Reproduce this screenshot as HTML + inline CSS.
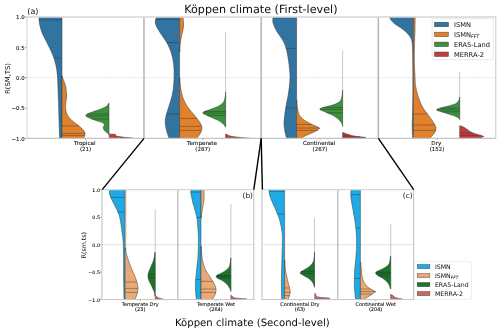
<!DOCTYPE html>
<html lang="en"><head><meta charset="utf-8"><title>Köppen climate violin plots</title>
<style>html,body{margin:0;padding:0;background:#fff}body{width:500px;height:332px;overflow:hidden}svg{display:block}</style></head>
<body>
<svg width="500" height="332" viewBox="0 0 500 332" font-family="'DejaVu Sans','Liberation Sans',sans-serif" text-rendering="geometricPrecision">
<defs><pattern id="dots" width="2.2" height="2.2" patternUnits="userSpaceOnUse"><circle cx="1.1" cy="1.1" r="0.28" fill="#8a5a30" fill-opacity="0.38"/></pattern></defs>
<rect width="500" height="332" fill="#fff"/>
<clipPath id="ca"><rect x="27" y="16.9" width="468.7" height="121.5"/></clipPath><clipPath id="cb"><rect x="101.9" y="189.6" width="311.7" height="110"/></clipPath>
<line x1="27.0" y1="77.65" x2="495.7" y2="77.65" stroke="#d4d4d4" stroke-width="0.7" stroke-dasharray="0.7 0.45"/>
<g clip-path="url(#ca)">
<path d="M62.00 14.50 L38.95 14.50 C38.96 14.92 38.96 15.75 39.00 17.00 C39.04 18.25 38.95 20.17 39.20 22.00 C39.45 23.83 39.93 26.00 40.50 28.00 C41.07 30.00 41.42 31.33 42.60 34.00 C43.78 36.67 45.97 40.67 47.60 44.00 C49.23 47.33 51.07 50.67 52.40 54.00 C53.73 57.33 54.77 60.33 55.60 64.00 C56.43 67.67 56.93 70.00 57.40 76.00 C57.87 82.00 58.13 92.67 58.40 100.00 C58.67 107.33 58.80 113.60 59.00 120.00 C59.20 126.40 59.49 134.92 59.60 138.40 C59.71 141.88 59.63 140.48 59.64 140.90 L62.00 140.90 Z" fill="#3274a1" stroke="#3a3a3a" stroke-width="0.5" stroke-linejoin="round"/>
<line x1="62.00" y1="20.00" x2="39.12" y2="20.00" stroke="#222" stroke-opacity="0.9" stroke-width="0.4"/>
<line x1="62.00" y1="58.00" x2="53.68" y2="58.00" stroke="#222" stroke-opacity="0.9" stroke-width="0.4"/>
<path d="M62.00 76.00 L62.20 76.00 C62.40 76.67 62.83 78.33 63.40 80.00 C63.97 81.67 65.07 83.33 65.60 86.00 C66.13 88.67 66.62 92.67 66.60 96.00 C66.58 99.33 65.55 103.33 65.50 106.00 C65.45 108.67 65.88 110.33 66.30 112.00 C66.72 113.67 66.97 114.50 68.00 116.00 C69.03 117.50 70.67 119.33 72.50 121.00 C74.33 122.67 77.20 124.50 79.00 126.00 C80.80 127.50 82.30 128.83 83.30 130.00 C84.30 131.17 84.78 132.00 85.00 133.00 C85.22 134.00 84.83 135.10 84.60 136.00 C84.37 136.90 83.85 137.58 83.60 138.40 C83.35 139.22 83.17 140.48 83.08 140.90 L62.00 140.90 Z" fill="#e1812c" stroke="#3a3a3a" stroke-width="0.5" stroke-linejoin="round"/>
<line x1="62.00" y1="126.00" x2="79.00" y2="126.00" stroke="#222" stroke-opacity="0.9" stroke-width="0.4"/>
<line x1="62.00" y1="133.40" x2="84.95" y2="133.40" stroke="#222" stroke-opacity="0.9" stroke-width="0.4"/>
<line x1="62.00" y1="135.60" x2="84.65" y2="135.60" stroke="#222" stroke-opacity="0.9" stroke-width="0.4"/>
<path d="M109.00 103.20 L108.80 103.20 C108.40 103.72 107.73 105.32 106.40 106.30 C105.07 107.28 103.15 108.15 100.80 109.10 C98.45 110.05 94.57 111.18 92.30 112.00 C90.03 112.82 88.30 113.43 87.20 114.00 C86.10 114.57 85.80 114.97 85.70 115.40 C85.60 115.83 86.18 116.23 86.60 116.60 C87.02 116.97 86.67 116.95 88.20 117.60 C89.73 118.25 93.47 119.67 95.80 120.50 C98.13 121.33 100.78 121.90 102.20 122.60 C103.62 123.30 104.13 123.88 104.30 124.70 C104.47 125.52 103.20 126.55 103.20 127.50 C103.20 128.45 103.70 129.57 104.30 130.40 C104.90 131.23 106.05 131.85 106.80 132.50 C107.55 133.15 108.47 134.00 108.80 134.30 L109.00 134.30 Z" fill="#3a923a" stroke="#3a3a3a" stroke-width="0.5" stroke-linejoin="round"/>
<line x1="109.00" y1="114.00" x2="87.20" y2="114.00" stroke="#222" stroke-opacity="0.9" stroke-width="0.4"/>
<line x1="109.00" y1="116.00" x2="86.15" y2="116.00" stroke="#222" stroke-opacity="0.9" stroke-width="0.4"/>
<line x1="109.00" y1="119.00" x2="91.87" y2="119.00" stroke="#222" stroke-opacity="0.9" stroke-width="0.4"/>
<path d="M109.2 133.9 L115.4 134.3 L116.2 136.1 L123 137.1 L132.8 138.1 L132.8 138.4 L109.2 138.4 Z" fill="#c03d3e" stroke="#3a3a3a" stroke-width="0.45" stroke-linejoin="round"/>
<path d="M179.60 14.50 L156.74 14.50 C156.69 14.92 156.64 15.92 156.40 17.00 C156.16 18.08 155.43 19.83 155.30 21.00 C155.17 22.17 155.27 22.83 155.60 24.00 C155.93 25.17 156.40 26.33 157.30 28.00 C158.20 29.67 159.28 31.33 161.00 34.00 C162.72 36.67 165.83 40.67 167.60 44.00 C169.37 47.33 170.60 50.67 171.60 54.00 C172.60 57.33 173.18 60.67 173.60 64.00 C174.02 67.33 174.10 70.33 174.10 74.00 C174.10 77.67 173.95 82.33 173.60 86.00 C173.25 89.67 172.77 92.67 172.00 96.00 C171.23 99.33 170.00 102.67 169.00 106.00 C168.00 109.33 166.63 113.33 166.00 116.00 C165.37 118.67 165.13 119.67 165.20 122.00 C165.27 124.33 165.77 127.27 166.40 130.00 C167.03 132.73 168.50 136.58 169.00 138.40 C169.50 140.22 169.32 140.48 169.39 140.90 L179.60 140.90 Z" fill="#3274a1" stroke="#3a3a3a" stroke-width="0.5" stroke-linejoin="round"/>
<line x1="179.60" y1="19.60" x2="155.69" y2="19.60" stroke="#222" stroke-opacity="0.9" stroke-width="0.4"/>
<line x1="179.60" y1="42.60" x2="166.68" y2="42.60" stroke="#222" stroke-opacity="0.9" stroke-width="0.4"/>
<line x1="179.60" y1="114.00" x2="166.60" y2="114.00" stroke="#222" stroke-opacity="0.9" stroke-width="0.4"/>
<path d="M179.60 14.50 L182.89 14.50 C182.91 14.92 182.88 15.42 183.00 17.00 C183.12 18.58 183.60 21.83 183.60 24.00 C183.60 26.17 183.27 28.33 183.00 30.00 C182.73 31.67 182.37 32.33 182.00 34.00 C181.63 35.67 181.13 38.00 180.80 40.00 C180.47 42.00 180.17 44.00 180.00 46.00 C179.83 48.00 179.83 51.00 179.80 52.00 L179.60 52.00 Z" fill="#e1812c" stroke="#3a3a3a" stroke-width="0.5" stroke-linejoin="round"/>
<path d="M179.60 78.00 L179.80 78.00 C179.90 79.33 179.97 83.00 180.40 86.00 C180.83 89.00 181.30 92.67 182.40 96.00 C183.50 99.33 184.90 102.67 187.00 106.00 C189.10 109.33 192.90 113.33 195.00 116.00 C197.10 118.67 198.43 120.00 199.60 122.00 C200.77 124.00 201.93 126.00 202.00 128.00 C202.07 130.00 200.93 132.27 200.00 134.00 C199.07 135.73 197.17 137.25 196.40 138.40 C195.63 139.55 195.55 140.48 195.38 140.90 L179.60 140.90 Z" fill="#e1812c" stroke="#3a3a3a" stroke-width="0.5" stroke-linejoin="round"/>
<line x1="179.60" y1="118.40" x2="196.84" y2="118.40" stroke="#222" stroke-opacity="0.9" stroke-width="0.4"/>
<line x1="179.60" y1="126.40" x2="201.36" y2="126.40" stroke="#222" stroke-opacity="0.9" stroke-width="0.4"/>
<line x1="179.60" y1="130.40" x2="201.20" y2="130.40" stroke="#222" stroke-opacity="0.9" stroke-width="0.4"/>
<line x1="225.60" y1="32.00" x2="225.60" y2="127.00" stroke="#a4a4a4" stroke-width="0.6"/>
<path d="M225.60 92.00 L225.60 92.00 C225.55 92.63 225.52 94.38 225.30 95.80 C225.08 97.22 224.85 99.18 224.30 100.50 C223.75 101.82 223.17 102.65 222.00 103.70 C220.83 104.75 219.52 105.75 217.30 106.80 C215.08 107.85 210.88 109.20 208.70 110.00 C206.52 110.80 205.20 111.13 204.20 111.60 C203.20 112.07 202.73 112.40 202.70 112.80 C202.67 113.20 203.27 113.57 204.00 114.00 C204.73 114.43 205.40 114.63 207.10 115.40 C208.80 116.17 211.98 117.55 214.20 118.60 C216.42 119.65 218.77 120.67 220.40 121.70 C222.03 122.73 223.13 123.88 224.00 124.80 C224.87 125.72 225.33 126.80 225.60 127.20 L225.60 127.20 Z" fill="#3a923a" stroke="#3a3a3a" stroke-width="0.5" stroke-linejoin="round"/>
<line x1="225.60" y1="111.50" x2="204.48" y2="111.50" stroke="#222" stroke-opacity="0.9" stroke-width="0.4"/>
<line x1="225.60" y1="113.10" x2="203.02" y2="113.10" stroke="#222" stroke-opacity="0.9" stroke-width="0.4"/>
<line x1="225.60" y1="115.40" x2="207.10" y2="115.40" stroke="#222" stroke-opacity="0.9" stroke-width="0.4"/>
<path d="M225.60 134.00 L226.00 134.00 C226.33 134.17 227.37 134.70 228.00 135.00 C228.63 135.30 228.97 135.53 229.80 135.80 C230.63 136.07 231.30 136.33 233.00 136.60 C234.70 136.87 237.67 137.17 240.00 137.40 C242.33 137.63 245.17 137.83 247.00 138.00 C248.83 138.17 248.25 137.92 251.00 138.40 C253.75 138.88 261.42 140.48 263.50 140.90 L225.60 140.90 Z" fill="#c03d3e" stroke="#3a3a3a" stroke-width="0.5" stroke-linejoin="round"/>
<path d="M296.60 14.50 L273.06 14.50 C273.05 14.92 273.04 15.92 273.00 17.00 C272.96 18.08 272.73 19.83 272.80 21.00 C272.87 22.17 272.87 22.50 273.40 24.00 C273.93 25.50 275.13 28.33 276.00 30.00 C276.87 31.67 277.50 32.33 278.60 34.00 C279.70 35.67 281.47 38.00 282.60 40.00 C283.73 42.00 284.60 43.67 285.40 46.00 C286.20 48.33 286.80 51.00 287.40 54.00 C288.00 57.00 288.57 60.33 289.00 64.00 C289.43 67.67 289.93 72.33 290.00 76.00 C290.07 79.67 289.73 82.67 289.40 86.00 C289.07 89.33 288.57 92.67 288.00 96.00 C287.43 99.33 286.57 102.67 286.00 106.00 C285.43 109.33 284.93 113.00 284.60 116.00 C284.27 119.00 283.93 121.33 284.00 124.00 C284.07 126.67 284.57 129.60 285.00 132.00 C285.43 134.40 286.28 136.92 286.60 138.40 C286.92 139.88 286.86 140.48 286.91 140.90 L296.60 140.90 Z" fill="#3274a1" stroke="#3a3a3a" stroke-width="0.5" stroke-linejoin="round"/>
<line x1="296.60" y1="17.80" x2="272.96" y2="17.80" stroke="#222" stroke-opacity="0.9" stroke-width="0.4"/>
<line x1="296.60" y1="48.40" x2="286.00" y2="48.40" stroke="#222" stroke-opacity="0.9" stroke-width="0.4"/>
<line x1="296.60" y1="108.00" x2="285.72" y2="108.00" stroke="#222" stroke-opacity="0.9" stroke-width="0.4"/>
<path d="M296.60 100.00 L296.80 100.00 C296.87 101.00 296.97 104.00 297.20 106.00 C297.43 108.00 297.73 110.33 298.20 112.00 C298.67 113.67 299.03 114.67 300.00 116.00 C300.97 117.33 302.17 118.67 304.00 120.00 C305.83 121.33 309.08 123.00 311.00 124.00 C312.92 125.00 314.10 125.33 315.50 126.00 C316.90 126.67 319.02 127.33 319.40 128.00 C319.78 128.67 318.70 129.33 317.80 130.00 C316.90 130.67 316.13 131.00 314.00 132.00 C311.87 133.00 307.17 134.93 305.00 136.00 C302.83 137.07 302.01 137.58 301.00 138.40 C299.99 139.22 299.26 140.48 298.92 140.90 L296.60 140.90 Z" fill="#e1812c" stroke="#3a3a3a" stroke-width="0.5" stroke-linejoin="round"/>
<line x1="296.60" y1="124.40" x2="311.90" y2="124.40" stroke="#222" stroke-opacity="0.9" stroke-width="0.4"/>
<line x1="296.60" y1="128.00" x2="319.40" y2="128.00" stroke="#222" stroke-opacity="0.9" stroke-width="0.4"/>
<line x1="296.60" y1="130.40" x2="317.04" y2="130.40" stroke="#222" stroke-opacity="0.9" stroke-width="0.4"/>
<line x1="342.60" y1="50.00" x2="342.60" y2="126.40" stroke="#a4a4a4" stroke-width="0.6"/>
<path d="M342.60 90.00 L342.60 90.00 C342.53 90.83 342.42 93.50 342.20 95.00 C341.98 96.50 341.83 97.82 341.30 99.00 C340.77 100.18 340.17 101.18 339.00 102.10 C337.83 103.02 336.52 103.72 334.30 104.50 C332.08 105.28 327.92 106.18 325.70 106.80 C323.48 107.42 322.00 107.81 321.00 108.20 C320.00 108.59 319.70 108.82 319.70 109.15 C319.70 109.48 320.27 109.81 321.00 110.20 C321.73 110.59 322.40 110.77 324.10 111.50 C325.80 112.23 329.12 113.55 331.20 114.60 C333.28 115.65 335.12 116.75 336.60 117.80 C338.08 118.85 339.18 119.87 340.10 120.90 C341.02 121.93 341.67 123.08 342.10 124.00 C342.53 124.92 342.60 126.00 342.70 126.40 L342.60 126.40 Z" fill="#3a923a" stroke="#3a3a3a" stroke-width="0.5" stroke-linejoin="round"/>
<line x1="342.60" y1="107.60" x2="323.01" y2="107.60" stroke="#222" stroke-opacity="0.9" stroke-width="0.4"/>
<line x1="342.60" y1="109.40" x2="320.01" y2="109.40" stroke="#222" stroke-opacity="0.9" stroke-width="0.4"/>
<line x1="342.60" y1="112.80" x2="327.08" y2="112.80" stroke="#222" stroke-opacity="0.9" stroke-width="0.4"/>
<path d="M342.60 132.50 L343.00 132.50 C343.42 132.65 344.73 133.12 345.50 133.40 C346.27 133.68 346.85 133.93 347.60 134.20 C348.35 134.47 349.10 134.73 350.00 135.00 C350.90 135.27 351.67 135.53 353.00 135.80 C354.33 136.07 355.90 136.33 358.00 136.60 C360.10 136.87 364.60 137.17 365.60 137.40 C366.60 137.63 364.60 137.83 364.00 138.00 C363.40 138.17 363.38 137.92 362.00 138.40 C360.62 138.88 356.79 140.48 355.75 140.90 L342.60 140.90 Z" fill="#c03d3e" stroke="#3a3a3a" stroke-width="0.5" stroke-linejoin="round"/>
<line x1="342.60" y1="135.20" x2="350.75" y2="135.20" stroke="#222" stroke-opacity="0.9" stroke-width="0.4"/>
<line x1="342.60" y1="136.80" x2="359.90" y2="136.80" stroke="#222" stroke-opacity="0.9" stroke-width="0.4"/>
<path d="M413.40 14.50 L389.02 14.50 C389.11 14.92 389.27 16.08 389.60 17.00 C389.93 17.92 390.10 18.83 391.00 20.00 C391.90 21.17 393.33 22.67 395.00 24.00 C396.67 25.33 399.17 26.67 401.00 28.00 C402.83 29.33 404.57 30.67 406.00 32.00 C407.43 33.33 408.67 34.67 409.60 36.00 C410.53 37.33 411.13 38.33 411.60 40.00 C412.07 41.67 412.20 42.67 412.40 46.00 C412.60 49.33 412.72 52.67 412.80 60.00 C412.88 67.33 412.95 80.83 412.90 90.00 C412.85 99.17 412.62 109.17 412.50 115.00 C412.38 120.83 412.22 121.83 412.20 125.00 C412.18 128.17 412.32 131.77 412.40 134.00 C412.48 136.23 412.64 137.25 412.70 138.40 C412.76 139.55 412.77 140.48 412.79 140.90 L413.40 140.90 Z" fill="#3274a1" stroke="#3a3a3a" stroke-width="0.5" stroke-linejoin="round"/>
<path d="M413.40 14.50 L415.22 14.50 C415.22 14.92 415.24 14.42 415.20 17.00 C415.16 19.58 415.12 25.50 415.00 30.00 C414.88 34.50 414.62 39.00 414.50 44.00 C414.38 49.00 414.22 54.67 414.30 60.00 C414.38 65.33 414.78 71.67 415.00 76.00 C415.22 80.33 415.10 82.67 415.60 86.00 C416.10 89.33 416.93 92.67 418.00 96.00 C419.07 99.33 420.67 103.33 422.00 106.00 C423.33 108.67 424.60 110.00 426.00 112.00 C427.40 114.00 429.00 116.00 430.40 118.00 C431.80 120.00 433.47 122.33 434.40 124.00 C435.33 125.67 435.90 126.67 436.00 128.00 C436.10 129.33 435.67 130.67 435.00 132.00 C434.33 133.33 432.90 134.93 432.00 136.00 C431.10 137.07 430.21 137.58 429.60 138.40 C428.99 139.22 428.56 140.48 428.35 140.90 L413.40 140.90 Z" fill="#e1812c" stroke="#3a3a3a" stroke-width="0.5" stroke-linejoin="round"/>
<line x1="413.40" y1="114.00" x2="427.47" y2="114.00" stroke="#222" stroke-opacity="0.9" stroke-width="0.4"/>
<line x1="413.40" y1="125.00" x2="434.80" y2="125.00" stroke="#222" stroke-opacity="0.9" stroke-width="0.4"/>
<line x1="413.40" y1="130.40" x2="435.40" y2="130.40" stroke="#222" stroke-opacity="0.9" stroke-width="0.4"/>
<line x1="459.70" y1="72.00" x2="459.70" y2="119.50" stroke="#a4a4a4" stroke-width="0.6"/>
<path d="M459.70 97.00 L459.60 97.00 C459.50 97.50 459.33 99.17 459.00 100.00 C458.67 100.83 458.17 101.38 457.60 102.00 C457.03 102.62 456.98 103.07 455.60 103.70 C454.22 104.33 451.77 105.10 449.30 105.80 C446.83 106.50 442.78 107.37 440.80 107.90 C438.82 108.43 438.10 108.68 437.40 109.00 C436.70 109.32 436.53 109.52 436.60 109.80 C436.67 110.08 436.75 110.30 437.80 110.70 C438.85 111.10 440.98 111.60 442.90 112.20 C444.82 112.80 447.18 113.60 449.30 114.30 C451.42 115.00 453.95 115.70 455.60 116.40 C457.25 117.10 458.52 117.98 459.20 118.50 C459.88 119.02 459.62 119.33 459.70 119.50 L459.70 119.50 Z" fill="#3a923a" stroke="#3a3a3a" stroke-width="0.5" stroke-linejoin="round"/>
<line x1="459.70" y1="108.20" x2="439.87" y2="108.20" stroke="#222" stroke-opacity="0.9" stroke-width="0.4"/>
<line x1="459.70" y1="110.00" x2="436.87" y2="110.00" stroke="#222" stroke-opacity="0.9" stroke-width="0.4"/>
<line x1="459.70" y1="111.80" x2="441.54" y2="111.80" stroke="#222" stroke-opacity="0.9" stroke-width="0.4"/>
<path d="M459.70 125.70 L460.00 125.70 C460.42 125.83 461.62 126.12 462.50 126.50 C463.38 126.88 464.38 127.42 465.30 128.00 C466.22 128.58 467.00 129.28 468.00 130.00 C469.00 130.72 470.22 131.72 471.30 132.30 C472.38 132.88 473.30 133.10 474.50 133.50 C475.70 133.90 476.98 134.23 478.50 134.70 C480.02 135.17 483.02 135.87 483.60 136.30 C484.18 136.73 482.63 136.95 482.00 137.30 C481.37 137.65 480.58 137.80 479.80 138.40 C479.02 139.00 477.72 140.48 477.30 140.90 L459.70 140.90 Z" fill="#c03d3e" stroke="#3a3a3a" stroke-width="0.5" stroke-linejoin="round"/>
<line x1="459.70" y1="133.00" x2="473.17" y2="133.00" stroke="#222" stroke-opacity="0.9" stroke-width="0.4"/>
<line x1="459.70" y1="135.60" x2="481.37" y2="135.60" stroke="#222" stroke-opacity="0.9" stroke-width="0.4"/>
</g>
<line x1="143.98" y1="16.90" x2="143.98" y2="138.40" stroke="#b4b4b4" stroke-width="1.5"/>
<line x1="261.15" y1="16.90" x2="261.15" y2="138.40" stroke="#b4b4b4" stroke-width="1.5"/>
<line x1="378.32" y1="16.90" x2="378.32" y2="138.40" stroke="#b4b4b4" stroke-width="1.5"/>
<line x1="26.50" y1="16.90" x2="496.20" y2="16.90" stroke="#d6d6d6" stroke-width="1.5"/>
<line x1="26.50" y1="138.40" x2="496.20" y2="138.40" stroke="#c4c4c4" stroke-width="1.1"/>
<line x1="27.00" y1="16.90" x2="27.00" y2="138.40" stroke="#d6d6d6" stroke-width="1.1"/>
<line x1="495.70" y1="16.90" x2="495.70" y2="138.40" stroke="#d0d0d0" stroke-width="1.1"/>
<line x1="24.70" y1="16.90" x2="26.50" y2="16.90" stroke="#555" stroke-width="0.5"/>
<text transform="translate(24.60 19.20) scale(0.1)" font-size="54.0" text-anchor="end" fill="#0a0a0a" stroke="#0a0a0a" stroke-width="0.8">1.0</text>
<line x1="24.70" y1="47.27" x2="26.50" y2="47.27" stroke="#555" stroke-width="0.5"/>
<text transform="translate(24.60 49.57) scale(0.1)" font-size="54.0" text-anchor="end" fill="#0a0a0a" stroke="#0a0a0a" stroke-width="0.8">0.5</text>
<line x1="24.70" y1="77.65" x2="26.50" y2="77.65" stroke="#555" stroke-width="0.5"/>
<text transform="translate(24.60 79.95) scale(0.1)" font-size="54.0" text-anchor="end" fill="#0a0a0a" stroke="#0a0a0a" stroke-width="0.8">0.0</text>
<line x1="24.70" y1="108.03" x2="26.50" y2="108.03" stroke="#555" stroke-width="0.5"/>
<text transform="translate(24.60 110.33) scale(0.1)" font-size="54.0" text-anchor="end" fill="#0a0a0a" stroke="#0a0a0a" stroke-width="0.8">−0.5</text>
<line x1="24.70" y1="138.40" x2="26.50" y2="138.40" stroke="#555" stroke-width="0.5"/>
<text transform="translate(24.60 140.70) scale(0.1)" font-size="54.0" text-anchor="end" fill="#0a0a0a" stroke="#0a0a0a" stroke-width="0.8">−1.0</text>
<line x1="85.59" y1="138.9" x2="85.59" y2="140.1" stroke="#666" stroke-width="0.5"/>
<text transform="translate(84.79 144.70) scale(0.1)" font-size="56.0" text-anchor="middle" fill="#0a0a0a" stroke="#0a0a0a" stroke-width="0.8">Tropical</text>
<text transform="translate(85.59 150.90) scale(0.1)" font-size="55.0" text-anchor="middle" fill="#0a0a0a" stroke="#0a0a0a" stroke-width="0.8">(21)</text>
<line x1="202.76" y1="138.9" x2="202.76" y2="140.1" stroke="#666" stroke-width="0.5"/>
<text transform="translate(201.96 144.70) scale(0.1)" font-size="56.0" text-anchor="middle" fill="#0a0a0a" stroke="#0a0a0a" stroke-width="0.8">Temperate</text>
<text transform="translate(202.76 150.90) scale(0.1)" font-size="55.0" text-anchor="middle" fill="#0a0a0a" stroke="#0a0a0a" stroke-width="0.8">(287)</text>
<line x1="319.94" y1="138.9" x2="319.94" y2="140.1" stroke="#666" stroke-width="0.5"/>
<text transform="translate(319.14 144.70) scale(0.1)" font-size="56.0" text-anchor="middle" fill="#0a0a0a" stroke="#0a0a0a" stroke-width="0.8">Continental</text>
<text transform="translate(319.94 150.90) scale(0.1)" font-size="55.0" text-anchor="middle" fill="#0a0a0a" stroke="#0a0a0a" stroke-width="0.8">(267)</text>
<line x1="437.11" y1="138.9" x2="437.11" y2="140.1" stroke="#666" stroke-width="0.5"/>
<text transform="translate(436.31 144.70) scale(0.1)" font-size="56.0" text-anchor="middle" fill="#0a0a0a" stroke="#0a0a0a" stroke-width="0.8">Dry</text>
<text transform="translate(437.11 150.90) scale(0.1)" font-size="55.0" text-anchor="middle" fill="#0a0a0a" stroke="#0a0a0a" stroke-width="0.8">(152)</text>
<text transform="translate(9.9 78.5) rotate(-90) scale(0.1)" font-size="68.0" text-anchor="middle" fill="#0a0a0a">R(SM,TS)</text>
<text transform="translate(27.30 14.10) scale(0.1)" font-size="80.0" text-anchor="start" fill="#0a0a0a">(a)</text>
<text transform="translate(260.90 12.50) scale(0.1)" font-size="112.0" text-anchor="middle" fill="#0a0a0a">Köppen climate (First-level)</text>
<rect x="432.2" y="18.7" width="61.1" height="41" rx="1.2" fill="#fff" fill-opacity="0.8" stroke="#dcdcdc" stroke-width="0.6"/>
<rect x="434.5" y="22.20" width="14" height="4.6" fill="#3274a1" stroke="#3a3a3a" stroke-width="0.4"/>
<text transform="translate(453.90 26.90) scale(0.1)" font-size="67.0" text-anchor="start" fill="#0a0a0a">ISMN</text>
<rect x="434.5" y="32.13" width="14" height="4.6" fill="#e1812c" stroke="#3a3a3a" stroke-width="0.4"/>
<text transform="translate(453.9 36.83) scale(0.1)" font-size="67" fill="#0a0a0a">ISMN<tspan font-size="47" dy="13" font-style="italic">FFT</tspan></text>
<rect x="434.5" y="42.06" width="14" height="4.6" fill="#3a923a" stroke="#3a3a3a" stroke-width="0.4"/>
<text transform="translate(453.90 46.76) scale(0.1)" font-size="67.0" text-anchor="start" fill="#0a0a0a">ERA5-Land</text>
<rect x="434.5" y="51.99" width="14" height="4.6" fill="#c03d3e" stroke="#3a3a3a" stroke-width="0.4"/>
<text transform="translate(453.90 56.69) scale(0.1)" font-size="67.0" text-anchor="start" fill="#0a0a0a">MERRA-2</text>
<line x1="101.9" y1="244.60" x2="253.8" y2="244.60" stroke="#d8d8d8" stroke-width="0.7"/>
<line x1="262.0" y1="244.60" x2="413.6" y2="244.60" stroke="#d8d8d8" stroke-width="0.7"/>
<g clip-path="url(#cb)">
<path d="M125.10 187.10 L109.60 187.10 C109.60 187.52 109.60 188.45 109.60 189.60 C109.60 190.75 109.37 192.60 109.60 194.00 C109.83 195.40 110.27 196.33 111.00 198.00 C111.73 199.67 113.00 202.00 114.00 204.00 C115.00 206.00 116.10 208.00 117.00 210.00 C117.90 212.00 118.73 213.67 119.40 216.00 C120.07 218.33 120.57 221.33 121.00 224.00 C121.43 226.67 121.67 229.33 122.00 232.00 C122.33 234.67 122.77 237.00 123.00 240.00 C123.23 243.00 123.30 245.83 123.40 250.00 C123.50 254.17 123.57 260.00 123.60 265.00 C123.63 270.00 123.53 274.23 123.60 280.00 C123.67 285.77 123.93 295.92 124.00 299.60 C124.07 303.28 124.02 301.68 124.03 302.10 L125.10 302.10 Z" fill="#1faae6" stroke="#3a3a3a" stroke-width="0.5" stroke-linejoin="round"/>
<line x1="125.10" y1="197.40" x2="110.79" y2="197.40" stroke="#222" stroke-opacity="0.9" stroke-width="0.4"/>
<line x1="125.10" y1="212.00" x2="117.80" y2="212.00" stroke="#222" stroke-opacity="0.9" stroke-width="0.4"/>
<line x1="125.75" y1="189.8" x2="125.75" y2="250" stroke="#d9935c" stroke-width="0.9"/>
<path d="M125.10 248.00 L125.50 248.00 C125.65 249.00 125.92 252.00 126.40 254.00 C126.88 256.00 127.73 258.00 128.40 260.00 C129.07 262.00 129.63 264.00 130.40 266.00 C131.17 268.00 132.13 270.00 133.00 272.00 C133.87 274.00 134.87 276.00 135.60 278.00 C136.33 280.00 137.00 282.33 137.40 284.00 C137.80 285.67 137.97 286.67 138.00 288.00 C138.03 289.33 137.87 290.67 137.60 292.00 C137.33 293.33 136.83 294.73 136.40 296.00 C135.97 297.27 135.31 298.58 135.00 299.60 C134.69 300.62 134.59 301.68 134.51 302.10 L125.10 302.10 Z" fill="#ecab76" stroke="#3a3a3a" stroke-width="0.5" stroke-linejoin="round"/>
<path d="M125.10 248.00 L125.50 248.00 C125.65 249.00 125.92 252.00 126.40 254.00 C126.88 256.00 127.73 258.00 128.40 260.00 C129.07 262.00 129.63 264.00 130.40 266.00 C131.17 268.00 132.13 270.00 133.00 272.00 C133.87 274.00 134.87 276.00 135.60 278.00 C136.33 280.00 137.00 282.33 137.40 284.00 C137.80 285.67 137.97 286.67 138.00 288.00 C138.03 289.33 137.87 290.67 137.60 292.00 C137.33 293.33 136.83 294.73 136.40 296.00 C135.97 297.27 135.31 298.58 135.00 299.60 C134.69 300.62 134.59 301.68 134.51 302.10 L125.10 302.10 Z" fill="url(#dots)" stroke="none"/>
<line x1="125.10" y1="282.00" x2="136.80" y2="282.00" stroke="#222" stroke-opacity="0.9" stroke-width="0.4"/>
<line x1="125.10" y1="288.40" x2="137.96" y2="288.40" stroke="#222" stroke-opacity="0.9" stroke-width="0.4"/>
<line x1="125.10" y1="292.40" x2="137.48" y2="292.40" stroke="#222" stroke-opacity="0.9" stroke-width="0.4"/>
<line x1="155.20" y1="209.00" x2="155.20" y2="296.00" stroke="#a4a4a4" stroke-width="0.6"/>
<path d="M155.20 252.00 L155.00 252.00 C154.90 252.67 154.63 254.67 154.40 256.00 C154.17 257.33 154.13 258.33 153.60 260.00 C153.07 261.67 152.02 264.00 151.20 266.00 C150.38 268.00 149.23 270.38 148.70 272.00 C148.17 273.62 148.00 274.37 148.00 275.70 C148.00 277.03 148.10 278.28 148.70 280.00 C149.30 281.72 150.82 284.33 151.60 286.00 C152.38 287.67 152.92 288.83 153.40 290.00 C153.88 291.17 154.23 292.00 154.50 293.00 C154.77 294.00 154.92 295.50 155.00 296.00 L155.20 296.00 Z" fill="#1a7528" stroke="#3a3a3a" stroke-width="0.5" stroke-linejoin="round"/>
<line x1="155.20" y1="274.40" x2="148.25" y2="274.40" stroke="#222" stroke-opacity="0.9" stroke-width="0.4"/>
<line x1="155.20" y1="277.60" x2="148.31" y2="277.60" stroke="#222" stroke-opacity="0.9" stroke-width="0.4"/>
<path d="M155.20 295.50 L155.40 295.50 C155.67 295.75 156.32 296.55 157.00 297.00 C157.68 297.45 158.60 297.87 159.50 298.20 C160.40 298.53 161.65 298.77 162.40 299.00 C163.15 299.23 163.18 299.08 164.00 299.60 C164.82 300.12 166.78 301.68 167.33 302.10 L155.20 302.10 Z" fill="#cb6666" stroke="#3a3a3a" stroke-width="0.5" stroke-linejoin="round"/>
<path d="M201.00 187.10 L191.07 187.10 C191.06 187.52 191.05 188.62 191.00 189.60 C190.95 190.58 190.73 191.93 190.80 193.00 C190.87 194.07 191.10 194.50 191.40 196.00 C191.70 197.50 192.10 200.00 192.60 202.00 C193.10 204.00 193.83 206.00 194.40 208.00 C194.97 210.00 195.53 212.00 196.00 214.00 C196.47 216.00 196.87 217.33 197.20 220.00 C197.53 222.67 197.80 226.67 198.00 230.00 C198.20 233.33 198.40 235.67 198.40 240.00 C198.40 244.33 198.23 251.67 198.00 256.00 C197.77 260.33 197.33 262.67 197.00 266.00 C196.67 269.33 196.27 273.00 196.00 276.00 C195.73 279.00 195.47 281.33 195.40 284.00 C195.33 286.67 195.43 289.40 195.60 292.00 C195.77 294.60 196.24 297.92 196.40 299.60 C196.56 301.28 196.51 301.68 196.53 302.10 L201.00 302.10 Z" fill="#1faae6" stroke="#3a3a3a" stroke-width="0.5" stroke-linejoin="round"/>
<line x1="201.00" y1="192.00" x2="190.86" y2="192.00" stroke="#222" stroke-opacity="0.9" stroke-width="0.4"/>
<line x1="201.00" y1="217.40" x2="196.68" y2="217.40" stroke="#222" stroke-opacity="0.9" stroke-width="0.4"/>
<line x1="201.00" y1="279.40" x2="195.75" y2="279.40" stroke="#222" stroke-opacity="0.9" stroke-width="0.4"/>
<path d="M201.00 187.10 L204.00 187.10 C204.00 187.52 204.00 187.45 204.00 189.60 C204.00 191.75 204.17 197.27 204.00 200.00 C203.83 202.73 203.28 204.33 203.00 206.00 C202.72 207.67 202.53 208.67 202.30 210.00 C202.07 211.33 201.78 212.67 201.60 214.00 C201.42 215.33 201.27 217.33 201.20 218.00 L201.00 218.00 Z" fill="#ecab76" stroke="#3a3a3a" stroke-width="0.5" stroke-linejoin="round"/>
<path d="M201.00 246.00 L201.30 246.00 C201.35 247.00 201.45 250.00 201.60 252.00 C201.75 254.00 201.90 256.00 202.20 258.00 C202.50 260.00 202.83 262.00 203.40 264.00 C203.97 266.00 204.60 268.00 205.60 270.00 C206.60 272.00 208.13 274.00 209.40 276.00 C210.67 278.00 212.23 280.33 213.20 282.00 C214.17 283.67 214.72 284.72 215.20 286.00 C215.68 287.28 216.03 288.53 216.10 289.70 C216.17 290.87 215.88 291.95 215.60 293.00 C215.32 294.05 214.95 294.90 214.40 296.00 C213.85 297.10 212.77 298.58 212.30 299.60 C211.83 300.62 211.69 301.68 211.57 302.10 L201.00 302.10 Z" fill="#ecab76" stroke="#3a3a3a" stroke-width="0.5" stroke-linejoin="round"/>
<path d="M201.00 246.00 L201.30 246.00 C201.35 247.00 201.45 250.00 201.60 252.00 C201.75 254.00 201.90 256.00 202.20 258.00 C202.50 260.00 202.83 262.00 203.40 264.00 C203.97 266.00 204.60 268.00 205.60 270.00 C206.60 272.00 208.13 274.00 209.40 276.00 C210.67 278.00 212.23 280.33 213.20 282.00 C214.17 283.67 214.72 284.72 215.20 286.00 C215.68 287.28 216.03 288.53 216.10 289.70 C216.17 290.87 215.88 291.95 215.60 293.00 C215.32 294.05 214.95 294.90 214.40 296.00 C213.85 297.10 212.77 298.58 212.30 299.60 C211.83 300.62 211.69 301.68 211.57 302.10 L201.00 302.10 Z" fill="url(#dots)" stroke="none"/>
<line x1="201.00" y1="281.40" x2="212.82" y2="281.40" stroke="#222" stroke-opacity="0.9" stroke-width="0.4"/>
<line x1="201.00" y1="289.00" x2="215.93" y2="289.00" stroke="#222" stroke-opacity="0.9" stroke-width="0.4"/>
<line x1="201.00" y1="292.40" x2="215.69" y2="292.40" stroke="#222" stroke-opacity="0.9" stroke-width="0.4"/>
<line x1="230.90" y1="204.00" x2="230.90" y2="291.00" stroke="#a4a4a4" stroke-width="0.6"/>
<path d="M230.90 258.00 L230.70 258.00 C230.62 258.87 230.50 261.63 230.20 263.20 C229.90 264.77 229.53 266.28 228.90 267.40 C228.27 268.52 227.43 269.07 226.40 269.90 C225.37 270.73 224.08 271.63 222.70 272.40 C221.32 273.17 219.12 273.97 218.10 274.50 C217.08 275.03 216.93 275.27 216.60 275.60 C216.27 275.93 216.10 276.20 216.10 276.50 C216.10 276.80 216.27 277.07 216.60 277.40 C216.93 277.73 217.15 277.97 218.10 278.50 C219.05 279.03 221.05 279.83 222.30 280.60 C223.55 281.37 224.65 282.27 225.60 283.10 C226.55 283.93 227.27 284.63 228.00 285.60 C228.73 286.57 229.55 287.93 230.00 288.90 C230.45 289.87 230.58 290.98 230.70 291.40 L230.90 291.40 Z" fill="#1a7528" stroke="#3a3a3a" stroke-width="0.5" stroke-linejoin="round"/>
<line x1="230.90" y1="275.40" x2="216.87" y2="275.40" stroke="#222" stroke-opacity="0.9" stroke-width="0.4"/>
<line x1="230.90" y1="276.60" x2="216.16" y2="276.60" stroke="#222" stroke-opacity="0.9" stroke-width="0.4"/>
<line x1="230.90" y1="278.20" x2="217.69" y2="278.20" stroke="#222" stroke-opacity="0.9" stroke-width="0.4"/>
<path d="M230.90 295.30 L231.20 295.30 C231.40 295.50 231.97 296.13 232.40 296.50 C232.83 296.87 233.12 297.22 233.80 297.50 C234.48 297.78 234.42 297.97 236.50 298.20 C238.58 298.43 245.05 298.67 246.30 298.90 C247.55 299.13 245.07 299.07 244.00 299.60 C242.93 300.13 240.58 301.68 239.89 302.10 L230.90 302.10 Z" fill="#cb6666" stroke="#3a3a3a" stroke-width="0.5" stroke-linejoin="round"/>
<path d="M284.60 187.10 L268.89 187.10 C268.91 187.52 268.91 188.45 269.00 189.60 C269.09 190.75 269.00 192.27 269.40 194.00 C269.80 195.73 270.63 198.00 271.40 200.00 C272.17 202.00 273.13 204.00 274.00 206.00 C274.87 208.00 275.77 210.00 276.60 212.00 C277.43 214.00 278.33 216.00 279.00 218.00 C279.67 220.00 280.10 221.67 280.60 224.00 C281.10 226.33 281.70 229.33 282.00 232.00 C282.30 234.67 282.42 235.33 282.40 240.00 C282.38 244.67 282.07 253.33 281.90 260.00 C281.73 266.67 281.43 273.40 281.40 280.00 C281.37 286.60 281.65 295.92 281.70 299.60 C281.75 303.28 281.72 301.68 281.72 302.10 L284.60 302.10 Z" fill="#1faae6" stroke="#3a3a3a" stroke-width="0.5" stroke-linejoin="round"/>
<line x1="284.60" y1="191.40" x2="269.16" y2="191.40" stroke="#222" stroke-opacity="0.9" stroke-width="0.4"/>
<line x1="284.60" y1="214.00" x2="277.40" y2="214.00" stroke="#222" stroke-opacity="0.9" stroke-width="0.4"/>
<path d="M284.60 260.00 L284.80 260.00 C284.83 261.00 284.90 264.33 285.00 266.00 C285.10 267.67 285.13 268.33 285.40 270.00 C285.67 271.67 286.17 274.00 286.60 276.00 C287.03 278.00 287.50 280.00 288.00 282.00 C288.50 284.00 289.23 286.33 289.60 288.00 C289.97 289.67 290.23 290.67 290.20 292.00 C290.17 293.33 289.77 294.73 289.40 296.00 C289.03 297.27 288.31 298.58 288.00 299.60 C287.69 300.62 287.59 301.68 287.51 302.10 L284.60 302.10 Z" fill="#ecab76" stroke="#3a3a3a" stroke-width="0.5" stroke-linejoin="round"/>
<path d="M284.60 260.00 L284.80 260.00 C284.83 261.00 284.90 264.33 285.00 266.00 C285.10 267.67 285.13 268.33 285.40 270.00 C285.67 271.67 286.17 274.00 286.60 276.00 C287.03 278.00 287.50 280.00 288.00 282.00 C288.50 284.00 289.23 286.33 289.60 288.00 C289.97 289.67 290.23 290.67 290.20 292.00 C290.17 293.33 289.77 294.73 289.40 296.00 C289.03 297.27 288.31 298.58 288.00 299.60 C287.69 300.62 287.59 301.68 287.51 302.10 L284.60 302.10 Z" fill="url(#dots)" stroke="none"/>
<line x1="284.60" y1="288.00" x2="289.60" y2="288.00" stroke="#222" stroke-opacity="0.9" stroke-width="0.4"/>
<line x1="284.60" y1="292.40" x2="290.12" y2="292.40" stroke="#222" stroke-opacity="0.9" stroke-width="0.4"/>
<line x1="284.60" y1="295.60" x2="289.48" y2="295.60" stroke="#222" stroke-opacity="0.9" stroke-width="0.4"/>
<line x1="314.50" y1="218.00" x2="314.50" y2="287.00" stroke="#a4a4a4" stroke-width="0.6"/>
<path d="M314.50 252.00 L314.50 252.00 C314.45 252.77 314.38 255.00 314.20 256.60 C314.02 258.20 313.92 260.22 313.40 261.60 C312.88 262.98 311.98 263.93 311.10 264.90 C310.22 265.87 309.28 266.57 308.10 267.40 C306.92 268.23 305.18 269.20 304.00 269.90 C302.82 270.60 301.63 271.12 301.00 271.60 C300.37 272.08 300.20 272.40 300.20 272.80 C300.20 273.20 300.37 273.52 301.00 274.00 C301.63 274.48 302.82 275.02 304.00 275.70 C305.18 276.38 306.92 277.28 308.10 278.10 C309.28 278.92 310.22 279.63 311.10 280.60 C311.98 281.57 312.85 282.78 313.40 283.90 C313.95 285.02 314.23 286.73 314.40 287.30 L314.50 287.30 Z" fill="#1a7528" stroke="#3a3a3a" stroke-width="0.5" stroke-linejoin="round"/>
<line x1="314.50" y1="271.60" x2="301.00" y2="271.60" stroke="#222" stroke-opacity="0.9" stroke-width="0.4"/>
<line x1="314.50" y1="273.40" x2="300.60" y2="273.40" stroke="#222" stroke-opacity="0.9" stroke-width="0.4"/>
<path d="M314.7 293.4 L315.7 293.7 L316.2 296.4 L320 297.3 L329.8 298 L329.8 298.6 L322 299.2 L314.7 299.6 Z" fill="#cb6666" stroke="#3a3a3a" stroke-width="0.4" stroke-linejoin="round"/>
<path d="M360.40 187.10 L351.04 187.10 C351.03 187.52 351.04 188.12 351.00 189.60 C350.96 191.08 350.70 193.93 350.80 196.00 C350.90 198.07 351.23 199.67 351.60 202.00 C351.97 204.33 352.53 207.33 353.00 210.00 C353.47 212.67 353.97 215.33 354.40 218.00 C354.83 220.67 355.27 223.00 355.60 226.00 C355.93 229.00 356.23 232.83 356.40 236.00 C356.57 239.17 356.67 241.67 356.60 245.00 C356.53 248.33 356.27 252.50 356.00 256.00 C355.73 259.50 355.27 262.67 355.00 266.00 C354.73 269.33 354.50 272.67 354.40 276.00 C354.30 279.33 354.30 283.00 354.40 286.00 C354.50 289.00 354.80 291.73 355.00 294.00 C355.20 296.27 355.48 298.25 355.60 299.60 C355.72 300.95 355.71 301.68 355.73 302.10 L360.40 302.10 Z" fill="#1faae6" stroke="#3a3a3a" stroke-width="0.5" stroke-linejoin="round"/>
<line x1="360.40" y1="194.60" x2="350.84" y2="194.60" stroke="#222" stroke-opacity="0.9" stroke-width="0.4"/>
<line x1="360.40" y1="228.00" x2="355.76" y2="228.00" stroke="#222" stroke-opacity="0.9" stroke-width="0.4"/>
<line x1="360.40" y1="278.40" x2="354.40" y2="278.40" stroke="#222" stroke-opacity="0.9" stroke-width="0.4"/>
<path d="M360.40 262.00 L360.70 262.00 C360.75 262.67 360.88 264.67 361.00 266.00 C361.12 267.33 361.23 268.33 361.40 270.00 C361.57 271.67 361.73 274.33 362.00 276.00 C362.27 277.67 362.50 278.67 363.00 280.00 C363.50 281.33 364.00 282.67 365.00 284.00 C366.00 285.33 367.75 287.00 369.00 288.00 C370.25 289.00 371.40 289.40 372.50 290.00 C373.60 290.60 375.43 291.10 375.60 291.60 C375.77 292.10 374.27 292.43 373.50 293.00 C372.73 293.57 372.25 294.17 371.00 295.00 C369.75 295.83 367.17 297.23 366.00 298.00 C364.83 298.77 364.59 298.92 364.00 299.60 C363.41 300.28 362.70 301.68 362.44 302.10 L360.40 302.10 Z" fill="#ecab76" stroke="#3a3a3a" stroke-width="0.5" stroke-linejoin="round"/>
<path d="M360.40 262.00 L360.70 262.00 C360.75 262.67 360.88 264.67 361.00 266.00 C361.12 267.33 361.23 268.33 361.40 270.00 C361.57 271.67 361.73 274.33 362.00 276.00 C362.27 277.67 362.50 278.67 363.00 280.00 C363.50 281.33 364.00 282.67 365.00 284.00 C366.00 285.33 367.75 287.00 369.00 288.00 C370.25 289.00 371.40 289.40 372.50 290.00 C373.60 290.60 375.43 291.10 375.60 291.60 C375.77 292.10 374.27 292.43 373.50 293.00 C372.73 293.57 372.25 294.17 371.00 295.00 C369.75 295.83 367.17 297.23 366.00 298.00 C364.83 298.77 364.59 298.92 364.00 299.60 C363.41 300.28 362.70 301.68 362.44 302.10 L360.40 302.10 Z" fill="url(#dots)" stroke="none"/>
<line x1="360.40" y1="289.00" x2="370.75" y2="289.00" stroke="#222" stroke-opacity="0.9" stroke-width="0.4"/>
<line x1="360.40" y1="291.60" x2="375.60" y2="291.60" stroke="#222" stroke-opacity="0.9" stroke-width="0.4"/>
<line x1="360.40" y1="294.00" x2="372.25" y2="294.00" stroke="#222" stroke-opacity="0.9" stroke-width="0.4"/>
<line x1="390.70" y1="224.40" x2="390.70" y2="289.00" stroke="#a4a4a4" stroke-width="0.6"/>
<path d="M390.70 256.00 L390.40 256.00 C390.33 256.65 390.25 258.55 390.00 259.90 C389.75 261.25 389.50 262.98 388.90 264.10 C388.30 265.22 387.50 265.78 386.40 266.60 C385.30 267.42 383.82 268.23 382.30 269.00 C380.78 269.77 378.35 270.65 377.30 271.20 C376.25 271.75 376.28 271.97 376.00 272.30 C375.72 272.63 375.57 272.88 375.60 273.20 C375.63 273.52 375.78 273.78 376.20 274.20 C376.62 274.62 377.08 275.05 378.10 275.70 C379.12 276.35 381.05 277.28 382.30 278.10 C383.55 278.92 384.65 279.77 385.60 280.60 C386.55 281.43 387.32 282.13 388.00 283.10 C388.68 284.07 389.30 285.43 389.70 286.40 C390.10 287.37 390.28 288.48 390.40 288.90 L390.70 288.90 Z" fill="#1a7528" stroke="#3a3a3a" stroke-width="0.5" stroke-linejoin="round"/>
<line x1="390.70" y1="272.20" x2="376.12" y2="272.20" stroke="#222" stroke-opacity="0.9" stroke-width="0.4"/>
<line x1="390.70" y1="273.60" x2="375.84" y2="273.60" stroke="#222" stroke-opacity="0.9" stroke-width="0.4"/>
<line x1="390.70" y1="275.80" x2="378.28" y2="275.80" stroke="#222" stroke-opacity="0.9" stroke-width="0.4"/>
<path d="M390.70 294.40 L391.00 294.40 C391.33 294.58 392.38 295.07 393.00 295.50 C393.62 295.93 393.95 296.55 394.70 297.00 C395.45 297.45 396.28 297.87 397.50 298.20 C398.72 298.53 401.42 298.77 402.00 299.00 C402.58 299.23 401.51 299.08 401.00 299.60 C400.49 300.12 399.26 301.68 398.92 302.10 L390.70 302.10 Z" fill="#cb6666" stroke="#3a3a3a" stroke-width="0.5" stroke-linejoin="round"/>
</g>
<line x1="177.85" y1="189.60" x2="177.85" y2="299.60" stroke="#b6b6b6" stroke-width="1.2"/>
<line x1="101.40" y1="189.60" x2="254.30" y2="189.60" stroke="#d8d8d8" stroke-width="1.2"/>
<line x1="101.40" y1="299.60" x2="254.30" y2="299.60" stroke="#c4c4c4" stroke-width="1.0"/>
<line x1="101.90" y1="189.60" x2="101.90" y2="299.60" stroke="#c4c4c4" stroke-width="1.1"/>
<line x1="253.80" y1="189.60" x2="253.80" y2="299.60" stroke="#c4c4c4" stroke-width="1.1"/>
<line x1="337.80" y1="189.60" x2="337.80" y2="299.60" stroke="#b6b6b6" stroke-width="1.2"/>
<line x1="261.50" y1="189.60" x2="414.10" y2="189.60" stroke="#d8d8d8" stroke-width="1.2"/>
<line x1="261.50" y1="299.60" x2="414.10" y2="299.60" stroke="#c4c4c4" stroke-width="1.0"/>
<line x1="262.00" y1="189.60" x2="262.00" y2="299.60" stroke="#c4c4c4" stroke-width="1.1"/>
<line x1="413.60" y1="189.60" x2="413.60" y2="299.60" stroke="#c4c4c4" stroke-width="1.1"/>
<line x1="99.60" y1="189.60" x2="101.40" y2="189.60" stroke="#555" stroke-width="0.5"/>
<text transform="translate(100.00 191.50) scale(0.1)" font-size="48.0" text-anchor="end" fill="#0a0a0a" stroke="#0a0a0a" stroke-width="0.8">1.0</text>
<line x1="99.60" y1="217.10" x2="101.40" y2="217.10" stroke="#555" stroke-width="0.5"/>
<text transform="translate(100.00 219.00) scale(0.1)" font-size="48.0" text-anchor="end" fill="#0a0a0a" stroke="#0a0a0a" stroke-width="0.8">0.5</text>
<line x1="99.60" y1="244.60" x2="101.40" y2="244.60" stroke="#555" stroke-width="0.5"/>
<text transform="translate(100.00 246.50) scale(0.1)" font-size="48.0" text-anchor="end" fill="#0a0a0a" stroke="#0a0a0a" stroke-width="0.8">0.0</text>
<line x1="99.60" y1="272.10" x2="101.40" y2="272.10" stroke="#555" stroke-width="0.5"/>
<text transform="translate(100.00 274.00) scale(0.1)" font-size="48.0" text-anchor="end" fill="#0a0a0a" stroke="#0a0a0a" stroke-width="0.8">−0.5</text>
<line x1="99.60" y1="299.60" x2="101.40" y2="299.60" stroke="#555" stroke-width="0.5"/>
<text transform="translate(100.00 301.50) scale(0.1)" font-size="48.0" text-anchor="end" fill="#0a0a0a" stroke="#0a0a0a" stroke-width="0.8">−1.0</text>
<line x1="140.20" y1="300.1" x2="140.20" y2="301.2" stroke="#666" stroke-width="0.5"/>
<text transform="translate(140.20 305.50) scale(0.1)" font-size="50.0" text-anchor="middle" fill="#0a0a0a" stroke="#0a0a0a" stroke-width="0.8">Temperate Dry</text>
<text transform="translate(140.20 311.00) scale(0.1)" font-size="50.0" text-anchor="middle" fill="#0a0a0a" stroke="#0a0a0a" stroke-width="0.8">(23)</text>
<line x1="216.00" y1="300.1" x2="216.00" y2="301.2" stroke="#666" stroke-width="0.5"/>
<text transform="translate(216.00 305.50) scale(0.1)" font-size="50.0" text-anchor="middle" fill="#0a0a0a" stroke="#0a0a0a" stroke-width="0.8">Temperate Wet</text>
<text transform="translate(216.00 311.00) scale(0.1)" font-size="50.0" text-anchor="middle" fill="#0a0a0a" stroke="#0a0a0a" stroke-width="0.8">(264)</text>
<line x1="299.90" y1="300.1" x2="299.90" y2="301.2" stroke="#666" stroke-width="0.5"/>
<text transform="translate(299.90 305.50) scale(0.1)" font-size="50.0" text-anchor="middle" fill="#0a0a0a" stroke="#0a0a0a" stroke-width="0.8">Continental Dry</text>
<text transform="translate(299.90 311.00) scale(0.1)" font-size="50.0" text-anchor="middle" fill="#0a0a0a" stroke="#0a0a0a" stroke-width="0.8">(63)</text>
<line x1="375.60" y1="300.1" x2="375.60" y2="301.2" stroke="#666" stroke-width="0.5"/>
<text transform="translate(375.60 305.50) scale(0.1)" font-size="50.0" text-anchor="middle" fill="#0a0a0a" stroke="#0a0a0a" stroke-width="0.8">Continental Wet</text>
<text transform="translate(375.60 311.00) scale(0.1)" font-size="50.0" text-anchor="middle" fill="#0a0a0a" stroke="#0a0a0a" stroke-width="0.8">(204)</text>
<text transform="translate(86.0 245.2) rotate(-90) scale(0.1)" font-size="62.6" text-anchor="middle" fill="#0a0a0a">R(sm,ts)</text>
<text transform="translate(253.00 197.90) scale(0.1)" font-size="74.0" text-anchor="end" fill="#0a0a0a">(b)</text>
<text transform="translate(412.60 197.90) scale(0.1)" font-size="74.0" text-anchor="end" fill="#0a0a0a">(c)</text>
<text transform="translate(252.30 326.10) scale(0.1)" font-size="101.4" text-anchor="middle" fill="#0a0a0a">Köppen climate (Second-level)</text>
<rect x="414.6" y="261.3" width="56.8" height="38" rx="1.2" fill="#fff" fill-opacity="0.8" stroke="#e2e2e2" stroke-width="0.6"/>
<rect x="417.2" y="264.50" width="12.7" height="4.2" fill="#1faae6" stroke="#3a3a3a" stroke-width="0.4"/>
<text transform="translate(434.90 268.85) scale(0.1)" font-size="62.5" text-anchor="start" fill="#0a0a0a">ISMN</text>
<rect x="417.2" y="273.50" width="12.7" height="4.2" fill="#ecab76" stroke="#3a3a3a" stroke-width="0.4"/>
<rect x="417.2" y="273.50" width="12.7" height="4.2" fill="url(#dots)"/>
<text transform="translate(434.9 277.85) scale(0.1)" font-size="62.5" fill="#0a0a0a">ISMN<tspan font-size="44" dy="12" font-style="italic">FFT</tspan></text>
<rect x="417.2" y="282.50" width="12.7" height="4.2" fill="#1a7528" stroke="#3a3a3a" stroke-width="0.4"/>
<text transform="translate(434.90 286.85) scale(0.1)" font-size="62.5" text-anchor="start" fill="#0a0a0a">ERA5-Land</text>
<rect x="417.2" y="291.50" width="12.7" height="4.2" fill="#cb6666" stroke="#3a3a3a" stroke-width="0.4"/>
<text transform="translate(434.90 295.85) scale(0.1)" font-size="62.5" text-anchor="start" fill="#0a0a0a">MERRA-2</text>
<line x1="144.00" y1="138.40" x2="102.20" y2="189.60" stroke="#000" stroke-width="1.4"/>
<line x1="261.20" y1="138.40" x2="253.80" y2="189.60" stroke="#000" stroke-width="1.4"/>
<line x1="261.20" y1="138.40" x2="262.40" y2="189.60" stroke="#000" stroke-width="1.4"/>
<line x1="378.40" y1="138.40" x2="413.70" y2="189.60" stroke="#000" stroke-width="1.4"/>
</svg>
</body></html>
